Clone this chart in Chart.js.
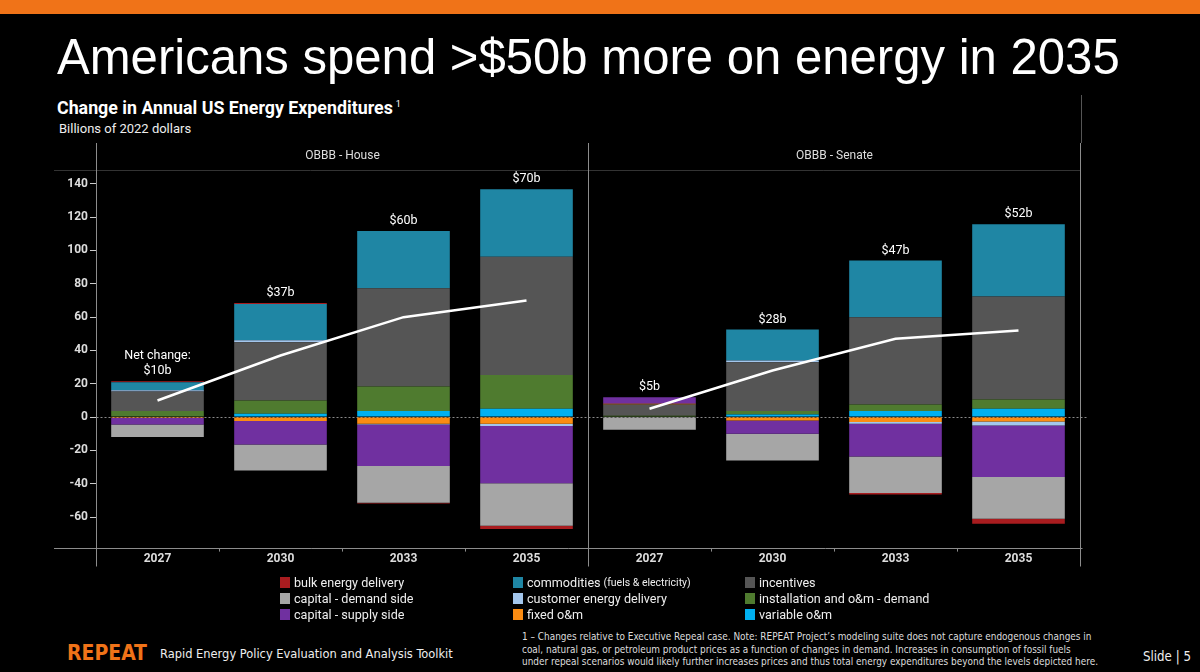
<!DOCTYPE html>
<html>
<head>
<meta charset="utf-8">
<script src="https://cdn.jsdelivr.net/npm/chart.js@4.4.0/dist/chart.umd.min.js"></script>
<style>
  html, body { margin: 0; padding: 0; background: #000; }
  body { width: 1200px; height: 672px; position: relative; overflow: hidden; color: #fff; font-family: Roboto, "Liberation Sans", sans-serif; }
  .abs { position: absolute; white-space: nowrap; line-height: 1; }
  .narrow { font-family: "Liberation Sans Narrow", "DejaVu Sans Condensed", sans-serif; }
  #topbar { left: 0; top: 0; width: 1200px; height: 14px; background: #f07318; }
  #title { left: 57px; top: 33px; font-family: "Liberation Sans", Arial, sans-serif; font-size: 49px; }
  #subtitle { left: 57px; top: 99px; font-weight: bold; font-size: 18px; }
  #subtitle sup { font-size: 9px; font-weight: normal; vertical-align: 7px; margin-left: 3px; }
  #units { left: 59px; top: 122px; font-size: 13px; color: #eee; }
  #edge { left: 1081px; top: 95px; width: 1px; height: 48px; background: #555; }
  #chartBox { position: absolute; left: 40px; top: 135px; width: 1050px; height: 440px; }
  .item { position: absolute; height: 16px; display: flex; align-items: center; font-size: 12.6px; color: #eee; white-space: nowrap; }
  .item i { display: inline-block; width: 10px; height: 11px; margin-right: 4px; }
  .item small { font-size: 10.5px; margin-left: 3px; }
  #repeat { left: 67px; top: 643px; font-weight: bold; font-size: 24px; color: #f07318; }
  #toolkit { left: 160px; top: 648px; font-size: 15px; color: #eee; }
  .note { left: 522px; font-size: 10.5px; color: #ddd; }
  #slide { left: 1143px; top: 650px; font-size: 15px; color: #eee; }
</style>
</head>
<body>
<div id="topbar" class="abs"></div>
<div id="title" class="abs">Americans spend &gt;$50b more on energy in 2035</div>
<div id="subtitle" class="abs"><span id="subText">Change in Annual US Energy Expenditures</span><sup>1</sup></div>
<div id="units" class="abs">Billions of 2022 dollars</div>
<div id="edge" class="abs"></div>
<div id="chartBox"><canvas id="energyChart"></canvas></div>
<div id="legend"></div>
<div id="repeat" class="abs narrow">REPEAT</div>
<div id="toolkit" class="abs narrow">Rapid Energy Policy Evaluation and Analysis Toolkit</div>
<div id="note1" class="abs narrow note" style="top:632px">1 – Changes relative to Executive Repeal case. Note: REPEAT Project’s modeling suite does not capture endogenous changes in</div>
<div id="note2" class="abs narrow note" style="top:644.5px">coal, natural gas, or petroleum product prices as a function of changes in demand. Increases in consumption of fossil fuels</div>
<div id="note3" class="abs narrow note" style="top:657px">under repeal scenarios would likely further increases prices and thus total energy expenditures beyond the levels depicted here.</div>
<div id="slide" class="abs narrow">Slide | 5</div>

<script>
// categories: four years per panel (House, then Senate)
const years = ['2027', '2030', '2033', '2035'];
const panels = ['OBBB - House', 'OBBB - Senate'];

// billions of 2022 dollars, House 2027..2035 then Senate 2027..2035
const variableOM     = [0,    2,     3.6,   5.0,    0,    1.6,  3.6,   5.0];
const installation   = [3.6,  8,     14.8,  20.3,   0.8,  2,    4,     5.6];
const incentives     = [11.8, 35,    59,    71,     6.8,  29.4, 52.4,  61.8];
const fixedOM        = [-0.6, -2.4,  -4,    -4,     0.4,  -2,   -3,    -2.6];
const customer       = [0.8,  1.2,   -0.4,  -1.4,   0,    1,    -1,    -2.4];
const capitalSupply  = [-3.8, -14,   -25,   -34.3,  4.0,  -8,   -19.6, -31];
const capitalDemand  = [-7.6, -15.6, -22,   -25.5,  -7.6, -16,  -22,   -25];
const commodities    = [4.8,  21.7,  34.3,  40.5,   0,    18.6, 34,    43.3];
const bulkDelivery   = [0.6,  0.6,   -0.4,  -2,     0,    0,    -0.8,  -3];

const netHouse  = [10, 37, 60, 70];
const netSenate = [5, 28, 47, 52];

const yTicks = [-60, -40, -20, 0, 20, 40, 60, 80, 100, 120, 140];
const yMin = -78.3, yMax = 148.3;

// stacking order (outward from zero)
const series = [
  { name: 'variable o&m', data: variableOM },
  { name: 'installation and o&m - demand', data: installation },
  { name: 'incentives', data: incentives },
  { name: 'fixed o&m', data: fixedOM },
  { name: 'customer energy delivery', data: customer },
  { name: 'capital - supply side', data: capitalSupply },
  { name: 'capital - demand side', data: capitalDemand },
  { name: 'commodities', data: commodities },
  { name: 'bulk energy delivery', data: bulkDelivery }
];

const colors = {
  'bulk energy delivery': '#a81c1f',
  'capital - demand side': '#a6a6a6',
  'capital - supply side': '#7030a0',
  'commodities': '#1f86a4',
  'customer energy delivery': '#a3c6ec',
  'fixed o&m': '#fb8c12',
  'incentives': '#555555',
  'installation and o&m - demand': '#4f7b2f',
  'variable o&m': '#00b0f0'
};

const labels = years.concat(years);
const net = netHouse.concat(netSenate);

const datasets = series.map(s => ({
  type: 'bar',
  label: s.name,
  data: s.data,
  backgroundColor: colors[s.name],
  borderWidth: 0,
  barPercentage: 0.753,
  categoryPercentage: 1.0
}));

datasets.push({
  type: 'line', label: 'Net change House', stack: 'netH', order: -1,
  data: netHouse.concat(netSenate.map(() => null)),
  borderColor: '#fff', borderWidth: 2.5, pointRadius: 0, tension: 0, spanGaps: false
});
datasets.push({
  type: 'line', label: 'Net change Senate', stack: 'netS', order: -1,
  data: netHouse.map(() => null).concat(netSenate),
  borderColor: '#fff', borderWidth: 2.5, pointRadius: 0, tension: 0, spanGaps: false
});

function strokeLine(ctx, x1, y1, x2, y2) {
  ctx.beginPath();
  ctx.moveTo(x1, y1);
  ctx.lineTo(x2, y2);
  ctx.stroke();
}

const panelFrame = {
  id: 'panelFrame',
  beforeDatasetsDraw(chart) {
    const { ctx, chartArea: a, scales: { x, y } } = chart;
    const mid = Math.round((x.getPixelForValue(3) + x.getPixelForValue(4)) / 2) + 0.5;
    const left = Math.round(a.left) + 0.5, right = Math.round(a.right) + 0.5;
    const top = Math.round(a.top) + 0.5, bottom = Math.round(a.bottom) + 0.5;
    const y0 = Math.round(y.getPixelForValue(0)) + 0.5;
    ctx.save();
    ctx.lineWidth = 1;
    // strip line under the panel headers
    ctx.strokeStyle = '#333';
    strokeLine(ctx, 14, top, right, top);
    // dotted zero line
    ctx.strokeStyle = '#8a8a8a';
    ctx.setLineDash([2, 2]);
    strokeLine(ctx, left, y0, right + 6, y0);
    ctx.setLineDash([]);
    // panel borders
    ctx.strokeStyle = '#8c8c8c';
    [left, mid, right].forEach(e => strokeLine(ctx, e, 8, e, bottom + 18));
    // x axis line
    strokeLine(ctx, 14, bottom, right + 2, bottom);
    // panel headers
    ctx.fillStyle = '#ddd';
    ctx.font = '12px Roboto';
    ctx.textAlign = 'center';
    ctx.textBaseline = 'middle';
    ctx.fillText(panels[0], (left + mid) / 2, 21);
    ctx.fillText(panels[1], (mid + right) / 2, 21);
    ctx.restore();
  },
  afterDatasetsDraw(chart) {
    const { ctx, scales: { x, y } } = chart;
    ctx.save();
    ctx.fillStyle = '#fff';
    ctx.font = '12.5px Roboto';
    ctx.textAlign = 'center';
    ctx.textBaseline = 'middle';
    labels.forEach((lab, i) => {
      let top = 0;
      series.forEach(s => { if (s.data[i] > 0) top += s.data[i]; });
      const px = x.getPixelForValue(i);
      const py = y.getPixelForValue(top) - 10;
      ctx.fillText('$' + net[i] + 'b', px, py);
      if (i === 0) ctx.fillText('Net change:', px, py - 15);
    });
    ctx.restore();
  }
};

Chart.defaults.font.family = 'Roboto';

new Chart(document.getElementById('energyChart'), {
  type: 'bar',
  data: { labels: labels, datasets: datasets },
  options: {
    responsive: true,
    maintainAspectRatio: false,
    animation: false,
    layout: { padding: { top: 35, right: 10, bottom: 9, left: 0 } },
    plugins: {
      legend: { display: false },
      tooltip: { enabled: false }
    },
    scales: {
      x: {
        stacked: true,
        grid: { drawOnChartArea: false, drawTicks: true, tickLength: 4, tickColor: '#8c8c8c', offset: true },
        border: { display: false },
        ticks: { color: '#ddd', font: { weight: 'bold', size: 12 }, padding: 0, maxRotation: 0, autoSkip: false }
      },
      y: {
        stacked: true,
        min: yMin,
        max: yMax,
        afterBuildTicks: s => { s.ticks = yTicks.map(v => ({ value: v })); },
        afterFit: s => { s.width = 56; },
        grid: { drawOnChartArea: false, drawTicks: true, tickLength: 6, tickColor: '#ccc' },
        border: { display: false },
        ticks: { color: '#ddd', font: { weight: 'bold', size: 12 }, padding: 2 }
      }
    }
  },
  plugins: [panelFrame]
});

// legend: alphabetical, filled column by column
const legendCols = [280, 513, 745];
const legendRows = [582, 598, 614];
const legend = document.getElementById('legend');
Object.keys(colors).sort().forEach((name, k) => {
  const el = document.createElement('div');
  el.className = 'item';
  el.style.left = legendCols[Math.floor(k / 3)] + 'px';
  el.style.top = (legendRows[k % 3] - 8) + 'px';
  el.innerHTML = '<i style="background:' + colors[name] + '"></i>' + name.replace('&', '&amp;') +
    (name === 'commodities' ? '<small>(fuels &amp; electricity)</small>' : '');
  legend.appendChild(el);
});

// fit text widths to the slide layout
function fitWidth(el, target) {
  const w = el.getBoundingClientRect().width;
  const size = parseFloat(getComputedStyle(el).fontSize);
  const next = size * target / w;
  el.style.fontSize = next + 'px';
  return next;
}
fitWidth(document.getElementById('title'), 1063);
fitWidth(document.getElementById('subText'), 336);
fitWidth(document.getElementById('toolkit'), 293);
const noteSize = fitWidth(document.getElementById('note3'), 577);
document.getElementById('note1').style.fontSize = noteSize + 'px';
document.getElementById('note2').style.fontSize = noteSize + 'px';
fitWidth(document.getElementById('repeat'), 80);
fitWidth(document.getElementById('slide'), 48);
</script>
</body>
</html>
